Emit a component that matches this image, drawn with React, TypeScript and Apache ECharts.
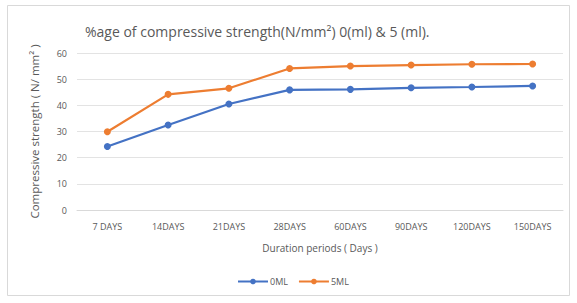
import React, { useEffect, useRef } from "react";
import * as echarts from "echarts";

const categories = ["7 DAYS", "14DAYS", "21DAYS", "28DAYS", "60DAYS", "90DAYS", "120DAYS", "150DAYS"];
const seriesNames = ["0ML", "5ML"];
const values0ML = [24.3, 32.5, 40.5, 45.9, 46.1, 46.7, 47.0, 47.4];
const values5ML = [29.9, 44.2, 46.5, 54.1, 55.0, 55.4, 55.7, 55.8];
const yTicks = { min: 0, max: 60, interval: 10 };

export default function App() {
  const ref = useRef<HTMLDivElement>(null);
  useEffect(() => {
    const chart = echarts.init(ref.current!, null, { renderer: "svg" });
    const font = "'Open Sans', 'Liberation Sans', sans-serif";
    chart.setOption({
      animation: false,
      backgroundColor: "#fff",
      textStyle: { fontFamily: font },
      title: {
        text: "%age of compressive strength(N/mm²) 0(ml) & 5 (ml).",
        left: 80,
        top: 19,
        textStyle: { fontSize: 14, fontWeight: "normal", color: "#595959", fontFamily: font },
      },
      graphic: [
        {
          type: "rect",
          shape: { x: 7.5, y: 5.5, width: 562, height: 290 },
          style: { fill: "none", stroke: "#d9d9d9", lineWidth: 1 },
          silent: true,
        },
      ],
      legend: {
        bottom: 12,
        left: 232,
        itemWidth: 30,
        itemHeight: 7,
        itemGap: 10,
        data: seriesNames,
        textStyle: { fontSize: 9, color: "#595959", padding: [0, 0, 0, -3] },
      },
      grid: { left: 77, right: 14, top: 53, bottom: 93 },
      xAxis: {
        type: "category",
        data: categories,
        name: "Duration periods ( Days )",
        nameLocation: "middle",
        nameGap: 33,
        nameTextStyle: { fontSize: 10, color: "#595959" },
        axisLine: { lineStyle: { color: "#d9d9d9" } },
        axisTick: { show: false },
        axisLabel: { fontSize: 9, color: "#595959", margin: 12, interval: 0 },
      },
      yAxis: {
        type: "value",
        min: yTicks.min,
        max: yTicks.max,
        interval: yTicks.interval,
        name: "Compressive strength ( N/ mm² )",
        nameLocation: "middle",
        nameGap: 37,
        nameTextStyle: { fontSize: 11.5, color: "#595959" },
        axisLine: { show: false },
        axisTick: { show: false },
        axisLabel: { fontSize: 9, color: "#595959", margin: 10 },
        splitLine: { lineStyle: { color: "#e3e3e3" } },
      },
      series: [
        {
          name: seriesNames[0],
          type: "line",
          data: values0ML,
          color: "#4472C4",
          symbol: "circle",
          symbolSize: 7,
          lineStyle: { width: 2.2 },
        },
        {
          name: seriesNames[1],
          type: "line",
          data: values5ML,
          color: "#ED7D31",
          symbol: "circle",
          symbolSize: 7,
          lineStyle: { width: 2.2 },
        },
      ],
    });
    return () => chart.dispose();
  }, []);
  return (
    <div
      ref={ref}
      style={{ position: "fixed", left: 0, top: 0, width: 577, height: 303 }}
    />
  );
}
